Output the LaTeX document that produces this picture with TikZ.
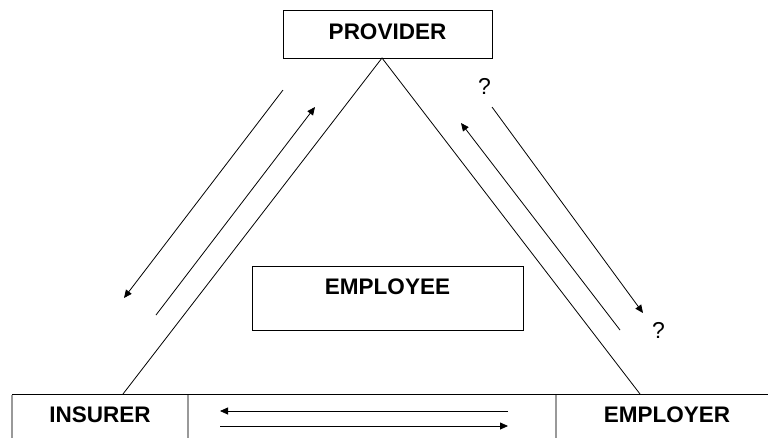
\documentclass[tikz,border=0pt]{standalone}
\usepackage{fontspec}
\setmainfont{Liberation Sans}
\usetikzlibrary{arrows.meta}
\begin{document}
\begin{tikzpicture}[x=1pt,y=-1pt,
  line width=0.8pt,
  box/.style={draw=black, line width=0.9pt, inner sep=0pt},
  lbl/.style={font=\fontsize{22.5}{26}\selectfont\bfseries, inner sep=0pt},
  qlbl/.style={font=\fontsize{23}{26}\selectfont, inner sep=0pt},
  side/.style={draw=black, line width=0.8pt},
  flow/.style={draw=black, line width=0.8pt, -{Triangle[length=8pt,width=7pt]}},
  divider/.style={draw=gray!80, line width=1.3pt}]
\useasboundingbox (0,0) rectangle (768,437);
\fill[white] (0,0) rectangle (768,437);

% boxes
\node[box, minimum width=209pt, minimum height=48pt] (provider) at (387.5,34) {};
\node[lbl] (providertxt) at (387.5,32) {PROVIDER};
\node[box, minimum width=271pt, minimum height=64pt] (employee) at (387.5,298) {};
\node[lbl] (employeetxt) at (387.5,287) {EMPLOYEE};

% bottom table
\draw[black, line width=0.9pt] (780,394) -- (12,394) -- (12,450);
\draw[divider] (12,395) -- (12,450);
\draw[divider] (188,395) -- (188,450);
\draw[divider] (556,395) -- (556,450);
\node[lbl] (insurer) at (100,415) {INSURER};
\node[lbl] (employer) at (667,415) {EMPLOYER};

% triangle
\coordinate (apex) at (382,58);
\coordinate (tl) at (123,394);
\coordinate (tr) at (640,394);
\draw[side] (tl) -- (apex) -- (tr);

% question marks
\node[qlbl] (q1) at (484.5,86.5) {?};
\node[qlbl] (q2) at (658.5,330) {?};

% left arrows
\coordinate (a1s) at (283,90);  \coordinate (a1e) at (124,298);
\coordinate (a2s) at (156,315); \coordinate (a2e) at (315,107);
\draw[flow] (a1s) -- (a1e);
\draw[flow] (a2s) -- (a2e);
% right arrows
\coordinate (a3s) at (620,330); \coordinate (a3e) at (461,123);
\coordinate (a4s) at (492,107); \coordinate (a4e) at (643,313);
\draw[flow] (a3s) -- (a3e);
\draw[flow] (a4s) -- (a4e);
% bottom arrows
\coordinate (a5s) at (508,411); \coordinate (a5e) at (220,411);
\coordinate (a6s) at (220,426); \coordinate (a6e) at (508,426);
\draw[flow] (a5s) -- (a5e);
\draw[flow] (a6s) -- (a6e);
\end{tikzpicture}
\end{document}
